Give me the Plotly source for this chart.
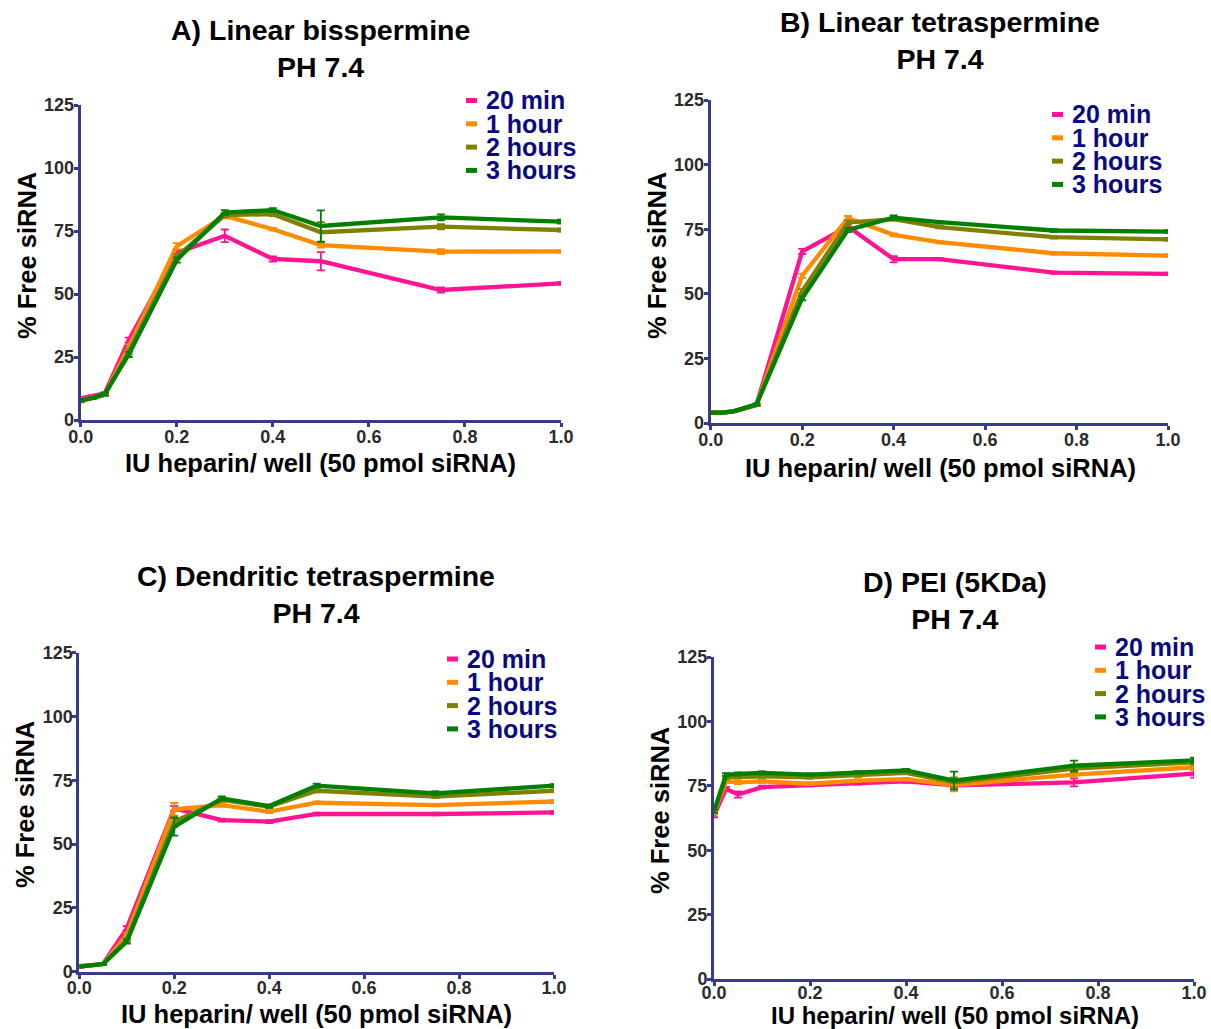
import plotly.graph_objects as go

# ---------------- data ----------------
heparin_iu = [0.0, 0.025, 0.05, 0.1, 0.2, 0.3, 0.4, 0.5, 0.75, 1.0]
series_names = ["20 min", "1 hour", "2 hours", "3 hours"]
series_colors = ["#ff1493", "#ff8c00", "#808000", "#008000"]

panel_titles = ["A) Linear bisspermine<br>PH 7.4",
                "B) Linear tetraspermine<br>PH 7.4",
                "C) Dendritic tetraspermine<br>PH 7.4",
                "D) PEI (5KDa)<br>PH 7.4"]

# A) Linear bisspermine
a_20min = [8.6, 9.5, 10.6, 31.7, 66.4, 73.1, 63.9, 63.0, 51.6, 54.2]
a_1h    = [8.0, 9.0, 10.0, 29.0, 69.0, 81.0, 75.7, 69.4, 66.8, 66.9]
a_2h    = [7.5, 8.8, 10.0, 27.0, 64.8, 81.3, 81.7, 74.5, 76.7, 75.4]
a_3h    = [7.9, 8.8, 10.3, 26.0, 63.5, 82.3, 83.3, 77.0, 80.4, 78.7]
a_20min_err = [0.5, 0.5, 0.5, 1.0, 1.0, 2.5, 1.0, 3.6, 1.0, 0.6]
a_1h_err    = [0.5, 0.5, 0.5, 1.0, 1.2, 1.0, 0.5, 1.0, 1.0, 0.5]
a_2h_err    = [0.5, 0.5, 0.5, 1.0, 1.0, 1.0, 0.8, 4.0, 1.0, 0.6]
a_3h_err    = [0.5, 0.5, 0.5, 1.0, 1.0, 1.0, 0.8, 6.2, 1.2, 0.8]

# B) Linear tetraspermine
b_20min = [4.1, 4.0, 4.5, 7.0, 66.4, 76.0, 63.4, 63.4, 58.2, 57.7]
b_1h    = [4.0, 4.0, 4.5, 7.0, 57.0, 79.3, 72.8, 70.0, 65.7, 64.8]
b_2h    = [4.0, 4.0, 4.5, 7.0, 51.0, 77.6, 78.9, 75.8, 71.9, 71.1]
b_3h    = [4.0, 4.0, 4.5, 7.2, 48.3, 74.7, 79.5, 77.7, 74.5, 74.1]
b_20min_err = [0.3, 0.3, 0.3, 0.4, 1.0, 0.8, 1.2, 0.5, 0.5, 0.5]
b_1h_err    = [0.3, 0.3, 0.3, 0.4, 0.8, 0.8, 0.6, 0.5, 0.5, 0.5]
b_2h_err    = [0.3, 0.3, 0.3, 0.4, 0.8, 0.8, 0.6, 0.5, 0.5, 0.5]
b_3h_err    = [0.3, 0.3, 0.3, 0.4, 0.8, 0.8, 0.8, 0.5, 0.5, 0.5]

# C) Dendritic tetraspermine
c_20min = [2.2, 2.6, 3.0, 17.0, 64.0, 59.4, 58.8, 61.8, 61.8, 62.4]
c_1h    = [2.0, 2.5, 3.0, 14.4, 63.6, 65.3, 62.7, 66.2, 65.3, 66.7]
c_2h    = [2.0, 2.5, 3.0, 12.4, 58.8, 67.3, 64.7, 70.9, 68.6, 70.9]
c_3h    = [2.0, 2.5, 3.0, 11.8, 56.8, 67.9, 64.9, 72.9, 69.9, 72.9]
c_20min_err = [0.3, 0.3, 0.3, 0.8, 1.0, 0.6, 0.6, 0.5, 0.5, 0.5]
c_1h_err    = [0.3, 0.3, 0.3, 0.8, 2.5, 0.6, 0.6, 0.5, 0.5, 0.5]
c_2h_err    = [0.3, 0.3, 0.3, 0.8, 2.0, 0.6, 0.6, 0.6, 0.6, 0.5]
c_3h_err    = [0.3, 0.3, 0.3, 0.8, 3.5, 0.8, 0.6, 0.8, 0.8, 0.6]

# D) PEI (5KDa)
d_20min = [63.4, 73.8, 71.6, 74.5, 75.3, 76.0, 76.7, 75.2, 76.3, 79.7]
d_1h    = [64.4, 76.7, 76.3, 76.7, 75.8, 77.0, 77.6, 75.3, 79.3, 82.2]
d_2h    = [65.0, 78.3, 78.4, 78.7, 78.3, 79.0, 80.0, 76.3, 81.7, 84.1]
d_3h    = [65.1, 79.3, 79.6, 80.0, 79.3, 80.2, 81.0, 77.0, 82.8, 84.9]
d_20min_err = [0.6, 0.8, 1.2, 0.6, 0.5, 0.5, 0.5, 1.0, 1.5, 1.5]
d_1h_err    = [0.6, 0.6, 0.6, 0.6, 0.5, 0.5, 0.5, 2.5, 1.0, 1.0]
d_2h_err    = [0.6, 0.6, 0.6, 0.6, 0.5, 0.5, 0.5, 2.0, 1.5, 1.0]
d_3h_err    = [0.6, 0.6, 0.6, 0.6, 0.5, 0.5, 0.6, 3.5, 2.0, 1.0]

panels = [
    ([a_20min, a_1h, a_2h, a_3h], [a_20min_err, a_1h_err, a_2h_err, a_3h_err]),
    ([b_20min, b_1h, b_2h, b_3h], [b_20min_err, b_1h_err, b_2h_err, b_3h_err]),
    ([c_20min, c_1h, c_2h, c_3h], [c_20min_err, c_1h_err, c_2h_err, c_3h_err]),
    ([d_20min, d_1h, d_2h, d_3h], [d_20min_err, d_1h_err, d_2h_err, d_3h_err]),
]

y_ticks = [0, 25, 50, 75, 100, 125]
x_ticks = [0.0, 0.2, 0.4, 0.6, 0.8, 1.0]
x_title = "IU heparin/ well (50 pmol siRNA)"
y_title = "% Free siRNA"

# ---------------- layout geometry ----------------
W, H = 1211, 1029


def px(xp):
    return xp / W


def py(yp):
    return 1 - yp / H


# plot boxes in window pixels: (left, right, top, bottom)
boxes = [
    (80.7, 561.0, 105.0, 420.0),
    (710.7, 1168.0, 100.0, 423.0),
    (79.3, 554.0, 652.7, 971.7),
    (714.0, 1194.0, 657.0, 979.0),
]
title_pos = [(320, 48.5), (940, 40.5), (316, 594.5), (955, 600)]
xtitle_pos = [(320, 463), (940, 468), (316, 1014), (955, 1015.3)]
xtitle_size = [25.5, 25.5, 25.5, 24]
xtick_standoff = [-6, -6, -6, -9]
ytitle_pos = [(27, 256), (657, 256), (25, 805), (660, 811)]
legend_pos = [(466, 100.5), (1052, 114.5), (447, 659), (1095, 647)]
legend_step = 23.3

FONT = "Arial, Liberation Sans, sans-serif"
AXIS_COLOR = "#383b8c"
TICK_COLOR = "#2b2b2b"
NAVY = "#0a0a80"

fig = go.Figure()
layout = dict(
    width=W, height=H,
    margin=dict(l=0, r=0, t=0, b=0),
    paper_bgcolor="white", plot_bgcolor="white",
    showlegend=False,
    font=dict(family=FONT),
)
annotations = []
shapes = []

for i, ((ys, errs), box) in enumerate(zip(panels, boxes)):
    n = i + 1
    xa = "x" if n == 1 else f"x{n}"
    ya = "y" if n == 1 else f"y{n}"
    for name, color, yv, ev in zip(series_names, series_colors, ys, errs):
        fig.add_trace(go.Scatter(
            x=heparin_iu, y=yv, name=name, mode="lines",
            line=dict(color=color, width=4.3),
            error_y=dict(type="data", array=ev, visible=True,
                         color=color, thickness=1.8, width=4),
            xaxis=xa, yaxis=ya, cliponaxis=False,
        ))
    l, r, t, b = box
    layout["xaxis" if n == 1 else f"xaxis{n}"] = dict(
        domain=[px(l), px(r)], range=[0, 1.0], anchor=ya,
        showline=True, linecolor=AXIS_COLOR, linewidth=3,
        showgrid=False, zeroline=False,
        ticks="outside", ticklen=4, tickwidth=3, tickcolor=AXIS_COLOR,
        tickvals=x_ticks, tickformat=".1f", ticklabelstandoff=xtick_standoff[i],
        tickfont=dict(family=FONT, size=18, color=TICK_COLOR, weight="bold"),
        automargin=False, fixedrange=True,
    )
    layout["yaxis" if n == 1 else f"yaxis{n}"] = dict(
        domain=[py(b), py(t)], range=[0, 125], anchor=xa,
        showline=True, linecolor=AXIS_COLOR, linewidth=3,
        showgrid=False, zeroline=False,
        ticks="outside", ticklen=4, tickwidth=3, tickcolor=AXIS_COLOR,
        tickvals=y_ticks, ticklabelstandoff=-4,
        tickfont=dict(family=FONT, size=18, color=TICK_COLOR, weight="bold"),
        automargin=False, fixedrange=True,
    )
    # panel title
    tx, ty = title_pos[i]
    annotations.append(dict(
        text=panel_titles[i], xref="paper", yref="paper",
        x=px(tx), y=py(ty), xanchor="center", yanchor="middle",
        showarrow=False, align="center",
        font=dict(family=FONT, size=28.5, color="black", weight="bold"),
    ))
    # axis titles
    ax_x, ax_y = xtitle_pos[i]
    annotations.append(dict(
        text=x_title, xref="paper", yref="paper",
        x=px(ax_x), y=py(ax_y), xanchor="center", yanchor="middle",
        showarrow=False,
        font=dict(family=FONT, size=xtitle_size[i], color="black", weight="bold"),
    ))
    ay_x, ay_y = ytitle_pos[i]
    annotations.append(dict(
        text=y_title, xref="paper", yref="paper", textangle=-90,
        x=px(ay_x), y=py(ay_y), xanchor="center", yanchor="middle",
        showarrow=False,
        font=dict(family=FONT, size=25.5, color="black", weight="bold"),
    ))
    # legend (swatch + label); compact rows like the original legend
    lx, ly = legend_pos[i]
    for k, (name, color) in enumerate(zip(series_names, series_colors)):
        yy = ly + k * legend_step
        shapes.append(dict(type="line", xref="paper", yref="paper",
                           x0=px(lx), x1=px(lx + 11),
                           y0=py(yy), y1=py(yy),
                           line=dict(color=color, width=5)))
        annotations.append(dict(
            text=name, xref="paper", yref="paper",
            x=px(lx + 19), y=py(yy), xanchor="left", yanchor="middle",
            height=22, valign="middle", borderpad=0,
            showarrow=False,
            font=dict(family=FONT, size=25, color=NAVY, weight="bold"),
        ))

layout["annotations"] = annotations
layout["shapes"] = shapes
fig.update_layout(**layout)
# remove the page's default body margin so the figure fills the window exactly
fig.write_html(
    "out.html",
    config={"displayModeBar": False},
    post_script="document.body.style.margin='0';"
                "document.body.style.overflow='hidden';"
                "document.documentElement.style.overflow='hidden';",
)
